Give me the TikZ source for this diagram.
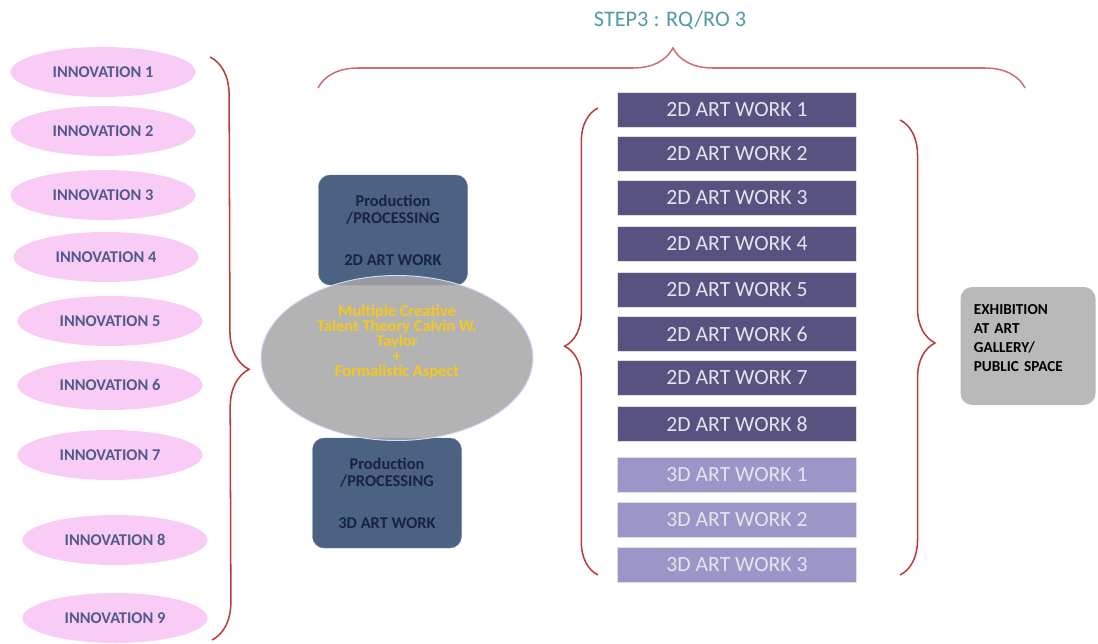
\documentclass[tikz,border=0pt]{standalone}
\usepackage{fontspec}
\setmainfont{Carlito}
\usetikzlibrary{shapes.geometric,decorations.pathreplacing}
\definecolor{innovpink}{RGB}{249,204,246}
\definecolor{innovtext}{RGB}{80,90,140}
\definecolor{prodfill}{RGB}{75,98,130}
\definecolor{prodtext}{RGB}{25,35,65}
\definecolor{artdark}{RGB}{88,82,128}
\definecolor{artlight}{RGB}{155,150,200}
\definecolor{arttext}{RGB}{228,228,238}
\definecolor{bracered}{RGB}{185,60,60}
\definecolor{toppink}{RGB}{205,110,120}
\definecolor{titleteal}{RGB}{80,155,165}
\definecolor{exhfill}{RGB}{185,185,185}
\definecolor{theoryyellow}{RGB}{245,200,30}
\begin{document}
\begin{tikzpicture}[x=0.03cm, y=-0.03cm,
  innov/.style={ellipse, fill=innovpink, minimum width=5.55cm, minimum height=1.5cm, text=innovtext, font=\bfseries\fontsize{14}{16}\selectfont},
  prod/.style={draw=prodfill!80!white, fill=prodfill, rounded corners=10pt, minimum width=4.47cm, minimum height=3.3cm, align=center, text=prodtext, font=\bfseries\fontsize{14}{14.5}\selectfont},
  artwork/.style={fill=#1, draw=gray!25, minimum width=7.17cm, minimum height=1.05cm, text=arttext, font=\fontsize{18.5}{20}\selectfont},
  bracket/.style={decorate, decoration={brace, amplitude=#1}, line width=1.3pt}]
\useasboundingbox (0,0) rectangle (1098,643);
% title and top brace
\node[text=titleteal, font=\fontsize{19}{22}\selectfont] (title) at (670,20) {STEP3 : RQ/RO 3};
\coordinate (topL) at (318,88);
\coordinate (topR) at (1025,88);
\draw[bracket=1.2cm, toppink, decoration={aspect=0.502}] (topL) -- (topR);
% innovations
\node[innov] (i1) at (103,72) {INNOVATION 1};
\node[innov] (i2) at (103,131) {INNOVATION 2};
\node[innov] (i3) at (103,195) {INNOVATION 3};
\node[innov] (i4) at (106,257) {INNOVATION 4};
\node[innov] (i5) at (110,321) {INNOVATION 5};
\node[innov] (i6) at (110,385) {INNOVATION 6};
\node[innov] (i7) at (110,455) {INNOVATION 7};
\node[innov] (i8) at (115,540) {INNOVATION 8};
\node[innov] (i9) at (115,618) {INNOVATION 9};
\coordinate (leftT) at (210,57);
\coordinate (leftB) at (212,640);
\draw[bracket=1.14cm, bracered, decoration={aspect=0.536}] (leftT) -- (leftB);
% production and theory
\node[prod] (p2d) at (393,230) {Production\\/PROCESSING\\[21pt]2D ART WORK};
\node[prod] (p3d) at (387,493) {Production\\/PROCESSING\\[21pt]3D ART WORK};
\node[ellipse, draw=white!85!blue, line width=0.8pt, fill=gray!70!white, fill opacity=0.85,
  minimum width=8.16cm, minimum height=4.95cm] (theory) at (397,358) {};
\node[align=center, text=theoryyellow, font=\bfseries\fontsize{14}{13}\selectfont] (theorytext) at (397,342)
  {Multiple Creative\\Talent Theory Calvin W.\\Taylor\\+\\Formalistic Aspect};
% art works
\node[artwork=artdark] (a1) at (737,110) {2D ART WORK 1};
\node[artwork=artdark] (a2) at (737,154) {2D ART WORK 2};
\node[artwork=artdark] (a3) at (737,198) {2D ART WORK 3};
\node[artwork=artdark] (a4) at (737,244) {2D ART WORK 4};
\node[artwork=artdark] (a5) at (737,290) {2D ART WORK 5};
\node[artwork=artdark] (a6) at (737,334) {2D ART WORK 6};
\node[artwork=artdark] (a7) at (737,378) {2D ART WORK 7};
\node[artwork=artdark] (a8) at (737,424) {2D ART WORK 8};
\node[artwork=artlight] (b1) at (737,475) {3D ART WORK 1};
\node[artwork=artlight] (b2) at (737,520) {3D ART WORK 2};
\node[artwork=artlight] (b3) at (737,565) {3D ART WORK 3};
\coordinate (midLB) at (598,575);
\coordinate (midLT) at (598,108);
\draw[bracket=1.0cm, bracered, decoration={aspect=0.49}] (midLB) -- (midLT);
\coordinate (midRT) at (900,120);
\coordinate (midRB) at (900,575);
\draw[bracket=1.05cm, bracered, decoration={aspect=0.49}] (midRT) -- (midRB);
% exhibition
\node[fill=exhfill, rounded corners=10pt, minimum width=4.05cm, minimum height=3.54cm] (exh) at (1028,346) {};
\node[text width=3.25cm, align=left, font=\bfseries\fontsize{13}{16}\selectfont] (exhtext) at (1028,338)
  {EXHIBITION\\AT ART\\GALLERY/\\PUBLIC SPACE};
\end{tikzpicture}
\end{document}
